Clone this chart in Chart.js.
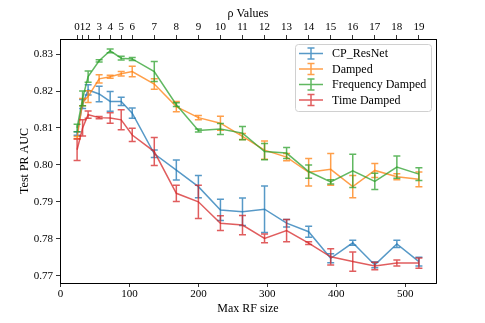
<!DOCTYPE html>
<html>
<head>
<meta charset="utf-8">
<script src="https://cdn.jsdelivr.net/npm/chart.js@4/dist/chart.umd.min.js"></script>
<style>
	html, body { margin: 0; padding: 0; background: #fff; }
</style>
</head>
<body>
<canvas id="chart" width="485" height="323"></canvas>
<script>
// x positions (max receptive field size) and the matching rho labels on the top axis
const rfSizes = [24, 32, 40, 56, 72, 88, 104, 136, 168, 200, 232, 264, 296, 328, 360, 392, 424, 456, 488, 520];
const rhoLabels = ["0", "1", "2", "3", "4", "5", "6", "7", "8", "9", "10", "11", "12", "13", "14", "15", "16", "17", "18", "19"];
const xTicks = [0, 100, 200, 300, 400, 500];
const yTicks = [0.77, 0.78, 0.79, 0.8, 0.81, 0.82, 0.83];

const seriesNames = ["CP_ResNet", "Damped", "Frequency Damped", "Time Damped"];

const cpResnet = [0.8085, 0.8165, 0.8203, 0.8192, 0.8172, 0.8172, 0.8140, 0.8030, 0.7986, 0.7941, 0.7878, 0.7873, 0.7880, 0.7842, 0.7819, 0.7747, 0.7789, 0.7729, 0.7786, 0.7738];
const cpResnetErr = [0.0005, 0.0012, 0.0014, 0.0021, 0.0027, 0.0011, 0.0014, 0.0010, 0.0027, 0.0030, 0.0029, 0.0037, 0.0063, 0.0010, 0.0015, 0.0012, 0.0007, 0.0008, 0.0010, 0.0012];

const damped = [0.8074, 0.8170, 0.8185, 0.8233, 0.8239, 0.8247, 0.8253, 0.8219, 0.8158, 0.8128, 0.8113, 0.8077, 0.8040, 0.8021, 0.7980, 0.7988, 0.7941, 0.7985, 0.7968, 0.7961];
const dampedErr = [0.0003, 0.0010, 0.0016, 0.0011, 0.0004, 0.0006, 0.0014, 0.0014, 0.0014, 0.0006, 0.0019, 0.0008, 0.0025, 0.0010, 0.0037, 0.0043, 0.0030, 0.0019, 0.0008, 0.0020];

const freqDamped = [0.8100, 0.8180, 0.8239, 0.8282, 0.8309, 0.8289, 0.8287, 0.8253, 0.8163, 0.8093, 0.8097, 0.8086, 0.8036, 0.8032, 0.7982, 0.7954, 0.7984, 0.7955, 0.7994, 0.7975];
const freqDampedErr = [0.0010, 0.0020, 0.0015, 0.0003, 0.0005, 0.0005, 0.0004, 0.0027, 0.0005, 0.0004, 0.0015, 0.0018, 0.0022, 0.0015, 0.0018, 0.0006, 0.0045, 0.0022, 0.0030, 0.0017];

const timeDamped = [0.8041, 0.8100, 0.8136, 0.8128, 0.8127, 0.8122, 0.8081, 0.8036, 0.7923, 0.7900, 0.7842, 0.7837, 0.7801, 0.7822, 0.7788, 0.7751, 0.7738, 0.7726, 0.7734, 0.7734];
const timeDampedErr = [0.0029, 0.0022, 0.0010, 0.0003, 0.0014, 0.0027, 0.0018, 0.0038, 0.0022, 0.0045, 0.0020, 0.0026, 0.0012, 0.0030, 0.0004, 0.0022, 0.0026, 0.0010, 0.0008, 0.0014];

const colors = ["rgba(31,119,180,0.75)", "rgba(255,127,14,0.75)", "rgba(44,160,44,0.75)", "rgba(214,39,40,0.75)"];
const allValues = [cpResnet, damped, freqDamped, timeDamped];
const allErrors = [cpResnetErr, dampedErr, freqDampedErr, timeDampedErr];

const tickFont = { family: "'Liberation Serif', serif", size: 11 };
const labelFont = { family: "'Liberation Serif', serif", size: 12 };

const datasets = seriesNames.map((name, i) => ({
	label: name,
	data: rfSizes.map((x, j) => ({ x: x, y: allValues[i][j] })),
	errors: allErrors[i],
	borderColor: colors[i],
	backgroundColor: colors[i],
	borderWidth: 1.5,
	pointRadius: 0,
	tension: 0,
	fill: false,
	order: 4 - i,
}));

// vertical error bars with caps, drawn right after each line
const errorBars = {
	id: "errorBars",
	afterDatasetDraw(chart, args) {
		const ds = chart.data.datasets[args.index];
		const xs = chart.scales.x;
		const ys = chart.scales.y;
		const ctx = chart.ctx;
		ctx.save();
		ctx.strokeStyle = ds.borderColor;
		ctx.lineWidth = 1.5;
		ds.data.forEach((p, j) => {
			const px = xs.getPixelForValue(p.x);
			const top = ys.getPixelForValue(p.y + ds.errors[j]);
			const bot = ys.getPixelForValue(p.y - ds.errors[j]);
			ctx.beginPath();
			ctx.moveTo(px, top);
			ctx.lineTo(px, bot);
			ctx.moveTo(px - 3.5, top);
			ctx.lineTo(px + 3.5, top);
			ctx.moveTo(px - 3.5, bot);
			ctx.lineTo(px + 3.5, bot);
			ctx.stroke();
		});
		ctx.restore();
	},
};

// right spine + matplotlib style legend box
const frameAndLegend = {
	id: "frameAndLegend",
	afterDraw(chart) {
		const ctx = chart.ctx;
		const area = chart.chartArea;
		ctx.save();
		ctx.strokeStyle = "#000";
		ctx.lineWidth = 1;
		ctx.beginPath();
		ctx.moveTo(Math.round(area.right) + 0.5, area.top);
		ctx.lineTo(Math.round(area.right) + 0.5, area.bottom);
		ctx.stroke();

		const bx = 295.5, by = 44.5, bw = 136, bh = 67, r = 3;
		ctx.beginPath();
		ctx.moveTo(bx + r, by);
		ctx.arcTo(bx + bw, by, bx + bw, by + bh, r);
		ctx.arcTo(bx + bw, by + bh, bx, by + bh, r);
		ctx.arcTo(bx, by + bh, bx, by, r);
		ctx.arcTo(bx, by, bx + bw, by, r);
		ctx.closePath();
		ctx.fillStyle = "rgba(255,255,255,0.8)";
		ctx.fill();
		ctx.strokeStyle = "#d0d0d0";
		ctx.stroke();

		ctx.font = "12px 'Liberation Serif', serif";
		ctx.textBaseline = "middle";
		ctx.textAlign = "left";
		chart.data.datasets.forEach((ds, i) => {
			const y = 53.5 + i * 15.5;
			ctx.strokeStyle = ds.borderColor;
			ctx.lineWidth = 1.5;
			ctx.beginPath();
			ctx.moveTo(299, y);
			ctx.lineTo(323, y);
			ctx.moveTo(311, y - 5.5);
			ctx.lineTo(311, y + 5.5);
			ctx.moveTo(307.5, y - 5.5);
			ctx.lineTo(314.5, y - 5.5);
			ctx.moveTo(307.5, y + 5.5);
			ctx.lineTo(314.5, y + 5.5);
			ctx.stroke();
			ctx.fillStyle = "#000";
			ctx.fillText(ds.label, 332, y + 0.5);
		});
		ctx.restore();
	},
};

const axisGrid = { drawOnChartArea: false, drawTicks: true, tickLength: 4, color: "#000", lineWidth: 0.8 };
const axisBorder = { display: true, color: "#000", width: 1 };

new Chart(document.getElementById("chart"), {
	type: "line",
	data: { datasets: datasets },
	options: {
		responsive: false,
		animation: false,
		devicePixelRatio: 1,
		layout: { padding: { left: 0, right: 49, top: 0, bottom: 0 } },
		plugins: {
			legend: { display: false },
			tooltip: { enabled: false },
		},
		scales: {
			x: {
				type: "linear",
				position: "bottom",
				min: -0.8,
				max: 544.8,
				afterBuildTicks: (s) => { s.ticks = xTicks.map((v) => ({ value: v })); },
				afterFit: (s) => { s.height = 40; },
				grid: axisGrid,
				border: axisBorder,
				ticks: { color: "#000", font: tickFont, padding: 1, maxRotation: 0, autoSkip: false, callback: (v) => String(v) },
				title: { display: true, text: "Max RF size", color: "#000", font: labelFont, padding: { top: 0, bottom: 7 } },
			},
			xTop: {
				type: "linear",
				position: "top",
				min: -0.8,
				max: 544.8,
				afterBuildTicks: (s) => { s.ticks = rfSizes.map((v) => ({ value: v })); },
				afterFit: (s) => { s.height = 39; },
				grid: axisGrid,
				border: axisBorder,
				ticks: { color: "#000", font: tickFont, padding: 1, maxRotation: 0, autoSkip: false, callback: (v, i) => rhoLabels[i] },
				title: { display: true, text: "ρ Values", color: "#000", font: labelFont, padding: { top: 7, bottom: 0 } },
			},
			y: {
				type: "linear",
				min: 0.768,
				max: 0.8341,
				afterBuildTicks: (s) => { s.ticks = yTicks.map((v) => ({ value: v })); },
				afterFit: (s) => { s.width = 60; },
				grid: axisGrid,
				border: axisBorder,
				ticks: { color: "#000", font: tickFont, padding: 3, callback: (v) => v.toFixed(2) },
				title: { display: true, text: "Test PR AUC", color: "#000", font: labelFont, padding: { top: 18, bottom: 0 } },
			},
		},
	},
	plugins: [errorBars, frameAndLegend],
});
</script>
</body>
</html>
